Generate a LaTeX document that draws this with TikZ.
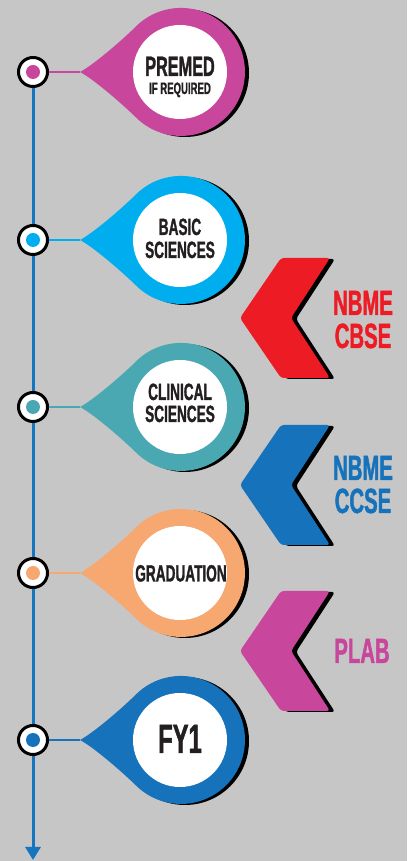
\documentclass[tikz,border=0pt]{standalone}
\usepackage{fontspec}
\newfontfamily\condfont[FakeStretch=0.58,FakeBold=1.2]{Liberation Sans}
\usetikzlibrary{arrows.meta}
\definecolor{bg}{RGB}{198,198,198}
\definecolor{txt}{RGB}{35,31,32}
\definecolor{cpink}{RGB}{200,70,155}
\definecolor{ccyan}{RGB}{0,174,239}
\definecolor{cteal}{RGB}{73,168,178}
\definecolor{cpeach}{RGB}{247,168,112}
\definecolor{cblue}{RGB}{22,114,186}
\definecolor{cred}{RGB}{237,28,36}
\definecolor{vblue}{RGB}{21,117,190}
\tikzset{
  dotnode/.style={circle, draw=black, line width=3pt, fill=white, minimum size=29pt, inner sep=0pt},
  vline/.style={draw=vblue, line width=3pt},
  lbl/.style={inner sep=0pt, anchor=base, text=txt},
  side/.style={inner sep=0pt, anchor=base, font=\condfont\bfseries\fontsize{35}{35}\selectfont},
}
% pin: #1 = y of center, #2 = colour, #3 = name suffix
\newcommand\pinbubble[3]{%
  \coordinate (tip#3) at (80,#1);
  \fill[black] (185,#1-1) circle (64);
  \fill[#2] (80,#1) .. controls (95,#1+8) and (125.1,#1+34.7) .. (135.7,#1+45.3)
     arc (135:-135:64) .. controls (125.1,#1-34.7) and (95,#1-8) .. (80,#1) -- cycle;
  \fill[white] (180,#1) circle (47);
  \node[dotnode] (d#3) at (33,#1) {};
  \fill[#2] (d#3.center) circle (7);
  \draw[#2, line width=2.5pt] (d#3) -- (tip#3);
}
% chevron: #1 = y of center, #2 = colour
\newcommand\chevshape[2]{%
  \fill[black, rounded corners=3pt, shift={(5,-1)}] (240,#1) -- (281,#1+60) -- (330,#1+60) -- (291,#1) -- (330,#1-60) -- (281,#1-60) -- cycle;
  \fill[#2, rounded corners=3pt] (240,#1) -- (281,#1+60) -- (330,#1+60) -- (291,#1) -- (330,#1-60) -- (281,#1-60) -- cycle;
}
\begin{document}
\begin{tikzpicture}[x=1pt,y=1pt]
\fill[bg] (0,0) rectangle (407,861);
\useasboundingbox (0,0) rectangle (407,861);
% vertical line first (behind)
\coordinate (top) at (33,789);
\coordinate (bot) at (33,1);
\draw[vline] (top) -- (33,121);
% pins
\pinbubble{789}{cpink}{1}
\pinbubble{621}{ccyan}{2}
\pinbubble{454}{cteal}{3}
\pinbubble{288}{cpeach}{4}
\pinbubble{121}{cblue}{5}
\draw[vline, -{Triangle[length=13pt,width=15pt]}] (d5) -- (bot);
% chevrons
\chevshape{543}{cred}
\chevshape{376}{cblue}
\chevshape{210}{cpink}
% pin labels
\node[lbl, font=\condfont\bfseries\fontsize{28}{28}\selectfont] (t1a) at (180,785) {PREMED};
\node[lbl, font=\condfont\bfseries\fontsize{16.5}{16.5}\selectfont] (t1b) at (180,767) {IF REQUIRED};
\node[lbl, font=\condfont\bfseries\fontsize{23.5}{23.5}\selectfont] (t2a) at (180,626) {BASIC};
\node[lbl, font=\condfont\bfseries\fontsize{23.5}{23.5}\selectfont] (t2b) at (180,603) {SCIENCES};
\node[lbl, font=\condfont\bfseries\fontsize{23.5}{23.5}\selectfont] (t3a) at (180,461) {CLINICAL};
\node[lbl, font=\condfont\bfseries\fontsize{23.5}{23.5}\selectfont] (t3b) at (180,439) {SCIENCES};
\node[lbl, font=\condfont\bfseries\fontsize{23.5}{23.5}\selectfont] (t4) at (181,279.5) {GRADUATION};
\node[lbl, font=\condfont\bfseries\fontsize{41}{41}\selectfont] (t5) at (180,108) {FY1};
% side labels
\node[side, text=cred] (s1a) at (363,546) {NBME};
\node[side, text=cred] (s1b) at (363,513) {CBSE};
\node[side, text=cblue] (s2a) at (363,381) {NBME};
\node[side, text=cblue] (s2b) at (363,348) {CCSE};
\node[side, text=cpink] (s3) at (362,198) {PLAB};
\end{tikzpicture}
\end{document}
